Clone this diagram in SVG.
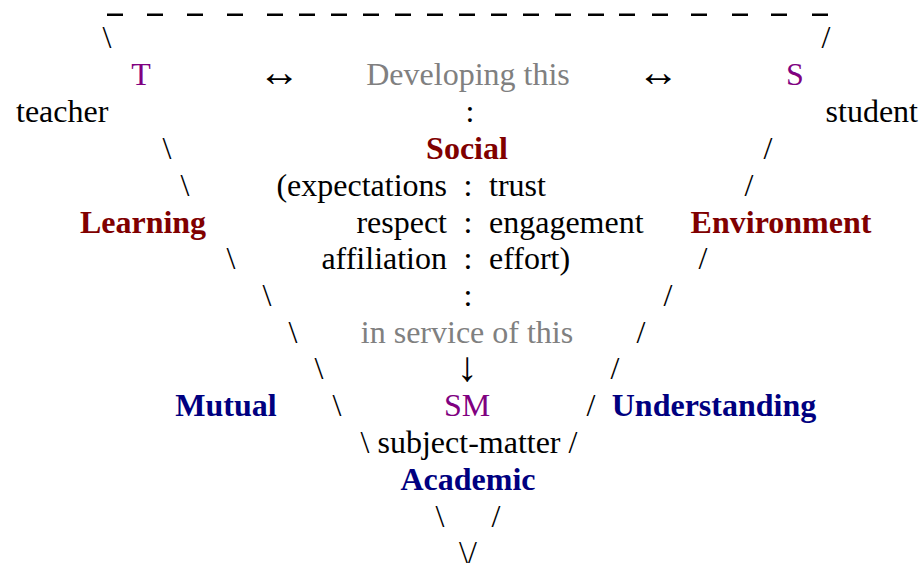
<svg xmlns="http://www.w3.org/2000/svg" width="924" height="566" viewBox="0 0 924 566">
<style>
text{font-family:"Liberation Serif","Times New Roman",serif;font-size:32px;fill:#000}
.b{font-weight:bold}
.p{fill:#800080}
.r{fill:#800000}
.n{fill:#000080}
.g{fill:#808080}
.m{text-anchor:middle}
.e{text-anchor:end}
.a{font-size:42px}
.d{stroke:#000;stroke-width:2.4;fill:none}
</style>
<rect width="924" height="566" fill="#fff"/>
<g id="connectors">
<path class="d" d="M107 14.7h16M147 14.7h16M187 14.7h16M227 14.7h16M267 14.7h16M299 14.7h16M331 14.7h16M363 14.7h16M395 14.7h16M427 14.7h16M459 14.7h16M491 14.7h16M523 14.7h16M555 14.7h16M588 14.7h16M619 14.7h16M652 14.7h16M691 14.7h16M732 14.7h16M771 14.7h16M812 14.7h16"/>
<text class="m" x="107" y="48">\</text>
<text class="m" x="826" y="48">/</text>
<text class="m" x="167" y="159">\</text>
<text class="m" x="768" y="159">/</text>
<text class="m" x="185" y="196">\</text>
<text class="m" x="749" y="196">/</text>
<text class="m" x="231" y="269">\</text>
<text class="m" x="703" y="269">/</text>
<text class="m" x="267" y="306">\</text>
<text class="m" x="668" y="306">/</text>
<text class="m" x="293" y="343">\</text>
<text class="m" x="641" y="343">/</text>
<text class="m" x="319" y="379">\</text>
<text class="m" x="615" y="379">/</text>
<text class="m" x="337" y="416">\</text>
<text class="m" x="591" y="416">/</text>
<text class="m" x="440" y="527">\</text>
<text class="m" x="496" y="527">/</text>
<text class="m" x="468" y="563">\/</text>
<text class="m a" x="279" y="86">↔</text>
<text class="m a" x="658" y="86">↔</text>
<text class="m" x="470" y="122">:</text>
<text class="m" x="468" y="306">:</text>
<text class="m a" x="467" y="381">↓</text>
</g>
<g id="teacher">
<text class="m p" x="141" y="85">T</text>
<text x="16" y="122">teacher</text>
</g>
<g id="student">
<text class="m p" x="795" y="85">S</text>
<text class="e" x="918" y="122">student</text>
</g>
<g id="developing">
<text class="m g" x="468" y="85">Developing this</text>
</g>
<g id="social">
<text class="m b r" x="467" y="159">Social</text>
<text class="e" x="447" y="196">(expectations</text>
<text class="m" x="468" y="196">:</text>
<text x="489" y="196">trust</text>
<text class="e" x="447" y="233">respect</text>
<text class="m" x="468" y="233">:</text>
<text x="489" y="233">engagement</text>
<text class="e" x="447" y="269">affiliation</text>
<text class="m" x="468" y="269">:</text>
<text x="489" y="269">effort)</text>
</g>
<g id="learning">
<text class="m b r" x="143" y="233">Learning</text>
</g>
<g id="environment">
<text class="m b r" x="781" y="233">Environment</text>
</g>
<g id="service">
<text class="m g" x="467" y="343">in service of this</text>
</g>
<g id="mutual">
<text class="m b n" x="226" y="416">Mutual</text>
</g>
<g id="understanding">
<text class="m b n" x="714" y="416">Understanding</text>
</g>
<g id="sm">
<text class="m p" x="467" y="416">SM</text>
<text class="m" x="469" y="453">\ subject-matter /</text>
</g>
<g id="academic">
<text class="m b n" x="468" y="490">Academic</text>
</g>
</svg>
